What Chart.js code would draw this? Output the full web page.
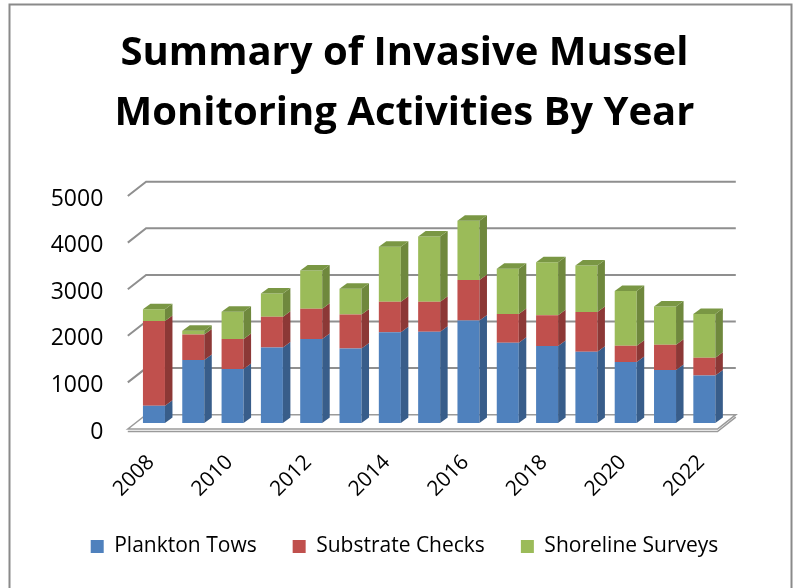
<!DOCTYPE html>
<html>
<head>
<meta charset="utf-8">
<script src="https://cdn.jsdelivr.net/npm/chart.js@4.4.0/dist/chart.umd.min.js"></script>
<style>
  body { margin: 0; background: #fff; }
  canvas { display: block; }
</style>
</head>
<body>
<canvas id="musselChart" width="799" height="588"></canvas>
<script>
const years = ['2008', '2009', '2010', '2011', '2012', '2013', '2014', '2015',
               '2016', '2017', '2018', '2019', '2020', '2021', '2022'];
const planktonTows     = [370, 1350, 1160, 1620, 1800, 1600, 1950, 1960, 2200, 1720, 1650, 1530, 1310, 1140, 1020];
const substrateChecks  = [1820, 550, 640, 660, 650, 730, 650, 640, 870, 620, 660, 850, 350, 540, 380];
const shorelineSurveys = [250, 80, 590, 500, 820, 550, 1180, 1400, 1270, 970, 1140, 1000, 1170, 820, 940];
const yMax = 5000;
const yStep = 1000;

const FONT = '"Open Sans"';
// side / top shades for the 3d look
const shades = [
    { side: '#385d8a', top: '#3f6aa0' },
    { side: '#8c3836', top: '#a2403d' },
    { side: '#6f883d', top: '#7a9744' }
];
const BAR_DX = 7.5, BAR_DY = 5.5;       // bar depth
const WALL_DX = 18.3, WALL_DY = 14.3;   // depth of the wall / floor
const FRONT_DX = -6.5, FRONT_DY = 6;    // front edge offset from bar plane

const walls = {
    id: 'walls',
    beforeDraw(chart) {
        const ctx = chart.ctx;
        ctx.save();
        ctx.strokeStyle = '#8a8a8a';
        ctx.lineWidth = 2;
        ctx.strokeRect(9.5, 4.5, 782, 600);
        ctx.restore();
    },
    beforeDatasetsDraw(chart) {
        const ctx = chart.ctx;
        const y = chart.scales.y;
        const area = chart.chartArea;
        const fx = area.left + FRONT_DX, bx = fx + WALL_DX;
        const rfx = area.right + FRONT_DX, rbx = rfx + WALL_DX;
        ctx.save();
        // floor
        const y0 = y.getPixelForValue(0);
        const f0 = y0 + FRONT_DY, b0 = f0 - WALL_DY;
        ctx.fillStyle = '#ffffff';
        ctx.strokeStyle = '#9a9a9a';
        ctx.lineWidth = 1.5;
        ctx.beginPath();
        ctx.moveTo(fx, f0);
        ctx.lineTo(bx, b0);
        ctx.lineTo(rbx, b0);
        ctx.lineTo(rfx, f0);
        ctx.closePath();
        ctx.fill();
        ctx.stroke();
        ctx.beginPath();
        ctx.moveTo(fx, f0 + 2.5);
        ctx.lineTo(rfx, f0 + 2.5);
        ctx.lineTo(rbx, b0 + 2.5);
        ctx.stroke();
        // grid lines on back and side wall
        ctx.strokeStyle = '#8f8f8f';
        ctx.lineWidth = 2;
        for (let v = yStep; v <= yMax; v += yStep) {
            const py = y.getPixelForValue(v) + FRONT_DY;
            ctx.beginPath();
            ctx.moveTo(fx, py);
            ctx.lineTo(bx, py - WALL_DY);
            ctx.lineTo(rbx, py - WALL_DY);
            ctx.stroke();
        }
        ctx.restore();
    },
    afterDatasetsDraw(chart) {
        const ctx = chart.ctx;
        const last = chart.data.datasets.length - 1;
        ctx.save();
        chart.data.datasets.forEach((ds, di) => {
            const meta = chart.getDatasetMeta(di);
            meta.data.forEach(bar => {
                const p = bar.getProps(['x', 'y', 'base', 'width'], true);
                const l = p.x - p.width / 2, r = p.x + p.width / 2;
                const top = Math.min(p.y, p.base), bot = Math.max(p.y, p.base);
                ctx.fillStyle = shades[di].side;
                ctx.beginPath();
                ctx.moveTo(r, top);
                ctx.lineTo(r + BAR_DX, top - BAR_DY);
                ctx.lineTo(r + BAR_DX, bot - BAR_DY);
                ctx.lineTo(r, bot);
                ctx.closePath();
                ctx.fill();
                if (di === last) {
                    ctx.fillStyle = shades[di].top;
                    ctx.beginPath();
                    ctx.moveTo(l, top);
                    ctx.lineTo(l + BAR_DX, top - BAR_DY);
                    ctx.lineTo(r + BAR_DX, top - BAR_DY);
                    ctx.lineTo(r, top);
                    ctx.closePath();
                    ctx.fill();
                }
            });
        });
        ctx.restore();
    }
};

const ctx = document.getElementById('musselChart').getContext('2d');
const musselChart = new Chart(ctx, {
    type: 'bar',
    data: {
        labels: years,
        datasets: [{
            label: 'Plankton Tows',
            data: planktonTows,
            backgroundColor: '#4f81bd'
        }, {
            label: 'Substrate Checks',
            data: substrateChecks,
            backgroundColor: '#c0504d'
        }, {
            label: 'Shoreline Surveys',
            data: shorelineSurveys,
            backgroundColor: '#9bbb59'
        }]
    },
    options: {
        responsive: false,
        animation: false,
        categoryPercentage: 1,
        barPercentage: 0.56,
        layout: { padding: { top: 10, left: 10, right: 0, bottom: 21 } },
        plugins: {
            title: {
                display: true,
                text: ['Summary of Invasive Mussel', 'Monitoring Activities By Year'],
                color: '#000',
                font: { family: FONT, size: 40, weight: 'bold', lineHeight: '60px' },
                padding: { top: 14, bottom: 46 }
            },
            legend: {
                position: 'bottom',
                labels: {
                    color: '#000',
                    font: { family: FONT, size: 21 },
                    boxWidth: 13,
                    boxHeight: 13,
                    padding: 36
                }
            },
            tooltip: { enabled: false }
        },
        scales: {
            x: {
                stacked: true,
                grid: { display: false, drawTicks: false },
                border: { display: false },
                ticks: {
                    autoSkip: false,
                    maxRotation: 45,
                    minRotation: 45,
                    color: '#000',
                    font: { family: FONT, size: 21 },
                    padding: 27,
                    labelOffset: -3,
                    callback: (v, i) => i % 2 ? '' : years[i]
                },
                afterFit: s => { s.height = 77; }
            },
            y: {
                stacked: true,
                min: 0,
                max: yMax,
                grid: { display: false, drawTicks: false },
                border: { display: false },
                ticks: {
                    stepSize: yStep,
                    color: '#000',
                    font: { family: FONT, size: 23 },
                    padding: 31,
                    labelOffset: 9,
                    callback: v => String(v)
                },
                afterFit: s => { s.width = 124.3; }
            },
            yRight: {
                position: 'right',
                display: true,
                grid: { display: false, drawTicks: false },
                border: { display: false },
                ticks: { display: false },
                afterFit: s => { s.width = 75; }
            }
        }
    },
    plugins: [walls]
});
</script>
</body>
</html>
